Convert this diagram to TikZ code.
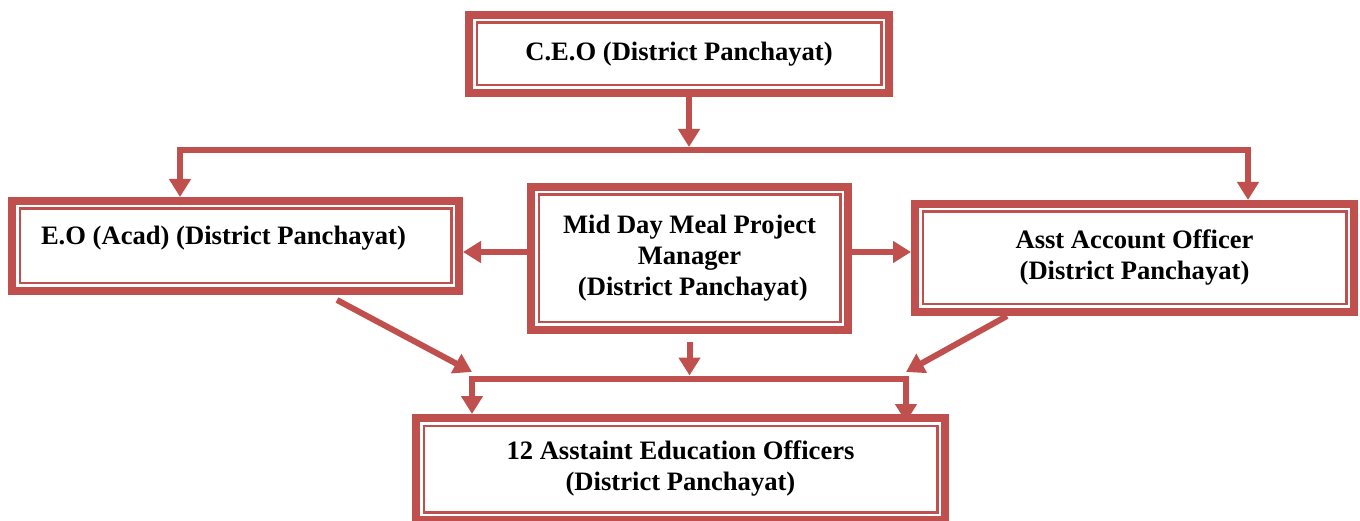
\documentclass[tikz,border=0pt]{standalone}
\usepackage{fontspec}
\setmainfont{Liberation Serif}
\usetikzlibrary{arrows.meta,calc}
\definecolor{boxred}{HTML}{C0504D}
\begin{document}
\begin{tikzpicture}[x=1pt,y=-1pt,
  box/.style={draw=boxred, line width=8pt, outer sep=4pt, inner sep=0pt,
    font=\fontsize{26.6}{31}\selectfont\bfseries, align=center},
  innerline/.style={draw=boxred, line width=2.5pt},
  conn/.style={draw=boxred, line width=6pt},
  arr/.style={conn, -{Triangle[length=18pt,width=21pt]}},
  biarr/.style={conn, line join=miter, {Triangle[length=18pt,width=21pt]}-{Triangle[length=18pt,width=21pt]}}
]
\useasboundingbox (0,0) rectangle (1360,521);

% boxes
\node[box, minimum width=420pt, minimum height=78pt] (ceo) at (679,54) {C.E.O (District Panchayat)};
\node[box, minimum width=447pt, minimum height=90pt, text width=389pt, align=left,
      text height=18pt, text depth=20pt] (eo) at (235.5,246)
  {\spaceskip=0pt\xspaceskip=0pt E.O (Acad) (District Panchayat)};
\node[box, minimum width=317pt, minimum height=143pt] (mdm) at (689.5,258.5)
  {Mid Day Meal Project\\Manager\\\hspace*{6.6pt}(District Panchayat)};
\node[box, minimum width=439pt, minimum height=108pt] (asst) at (1134.5,258)
  {Asst Account Officer\\(District Panchayat)};
\node[box, minimum width=529pt, minimum height=102pt] (aeo) at (680.5,469)
  {12 Asstaint Education Officers\\(District Panchayat)};

\foreach \n in {ceo,eo,mdm,asst,aeo}
  \draw[innerline] ([shift={(11.75pt,-11.75pt)}]\n.north west) rectangle ([shift={(-11.75pt,11.75pt)}]\n.south east);

% coordinates
\coordinate (ceoout) at ($(ceo.south)+(10pt,0)$);
\coordinate (topmid) at (689,147);
\coordinate (tl) at (180,150);
\coordinate (tr) at (1248,150);
\coordinate (bl) at (472,378.5);
\coordinate (br) at (906,378.5);
\coordinate (bm) at (689.5,375.5);
\coordinate (eoout) at (337,300);
\coordinate (eotip) at (472,372);
\coordinate (asout) at ($(asst.south)+(-127.5pt,0)$);
\coordinate (astip) at (906,372);

% connectors
\draw[arr] (ceoout) -- (topmid);
\draw[biarr] (tl |- eo.north) -- (tl) -- (tr) -- (tr |- asst.north);
\draw[arr] ([yshift=6.5pt]mdm.west) -- ([yshift=6.5pt]mdm.west -| eo.east);
\draw[arr] ([yshift=6.5pt]mdm.east) -- ([yshift=6.5pt]mdm.east -| asst.west);
\draw[arr] ([yshift=-8pt]mdm.south) -- (bm);
\draw[arr] (eoout) -- (eotip);
\draw[arr] (asout) -- (astip);
\draw[biarr] (bl |- aeo.north) -- (bl) -- (br) -- ($(br |- aeo.north)+(0,-8pt)$);
\end{tikzpicture}
\end{document}
